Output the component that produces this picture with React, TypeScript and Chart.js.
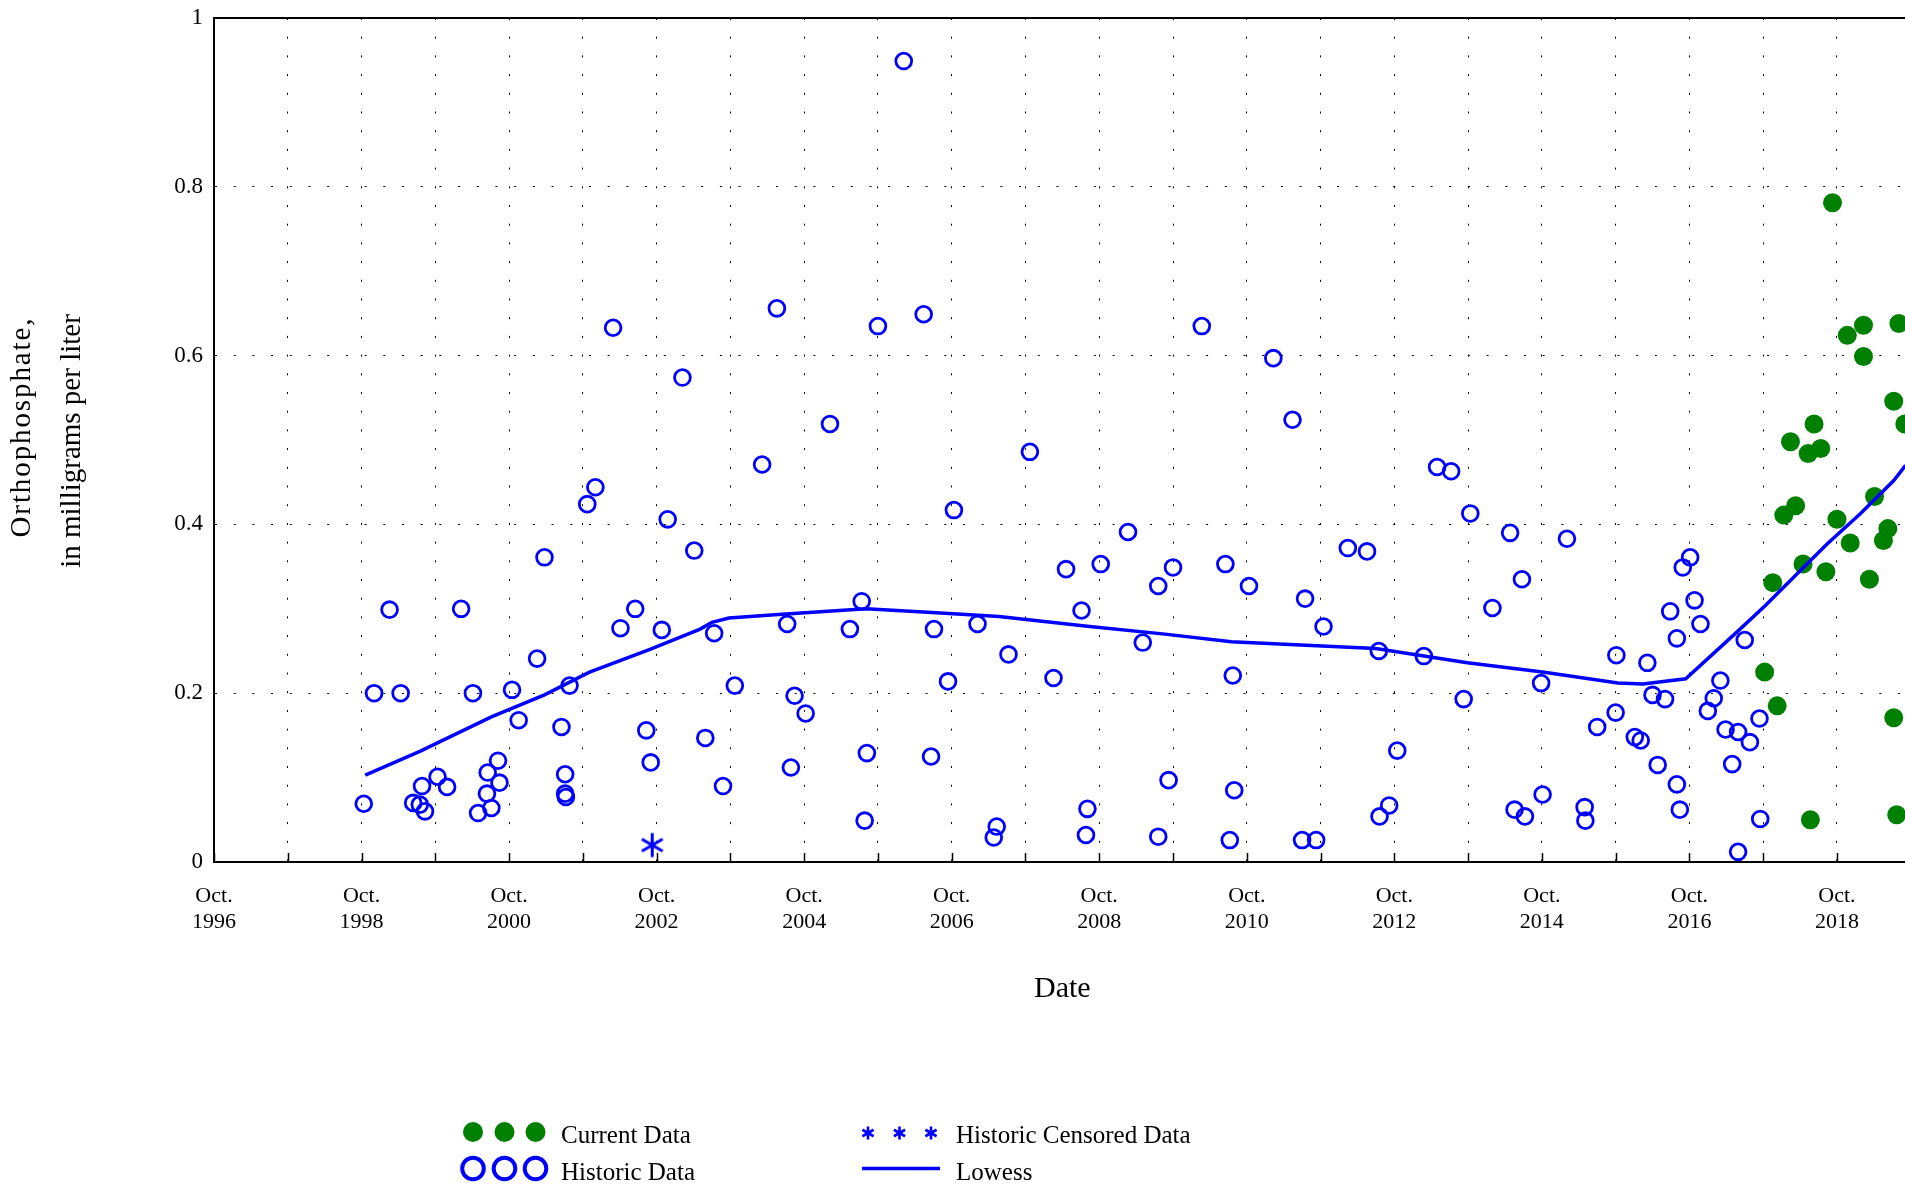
import React, { useEffect, useRef } from 'react';
import { Chart, registerables } from 'chart.js';

Chart.register(...registerables);

// ---------- DATA (decimal years, mg/L) ----------
const historicDates = [
  1998.78, 1998.92, 1999.13, 1999.28, 1999.45, 1999.54, 1999.57, 1999.61, 1999.78, 1999.91,
  2000.10, 2000.26, 2000.33, 2000.45, 2000.46, 2000.51, 2000.60, 2000.62, 2000.79, 2000.88,
  2001.13, 2001.23, 2001.46, 2001.51, 2001.51, 2001.52, 2001.57, 2001.81, 2001.92, 2002.16,
  2002.26, 2002.46, 2002.61, 2002.67, 2002.82, 2002.90, 2003.10, 2003.26, 2003.41, 2003.53,
  2003.65, 2003.81, 2004.18, 2004.38, 2004.52, 2004.57, 2004.62, 2004.77, 2005.10, 2005.37,
  2005.53, 2005.57, 2005.60, 2005.75, 2006.10, 2006.37, 2006.47, 2006.51, 2006.70, 2006.78,
  2007.10, 2007.32, 2007.36, 2007.52, 2007.81, 2008.13, 2008.30, 2008.51, 2008.57, 2008.59,
  2008.77, 2009.14, 2009.34, 2009.55, 2009.55, 2009.69, 2009.75, 2010.14, 2010.46, 2010.52,
  2010.56, 2010.58, 2010.78, 2011.11, 2011.37, 2011.50, 2011.54, 2011.69, 2011.79, 2012.12,
  2012.38, 2012.54, 2012.55, 2012.68, 2012.79, 2013.15, 2013.33, 2013.52, 2013.69, 2013.78,
  2014.08, 2014.32, 2014.38, 2014.48, 2014.52, 2014.74, 2014.76, 2015.09, 2015.33, 2015.34,
  2015.50, 2015.75, 2015.76, 2016.01, 2016.09, 2016.18, 2016.25, 2016.32, 2016.42, 2016.49,
  2016.58, 2016.58, 2016.62, 2016.66, 2016.76, 2016.82, 2016.90, 2017.00, 2017.08, 2017.17,
  2017.24, 2017.33, 2017.41, 2017.41, 2017.50, 2017.57, 2017.70, 2017.71,
];
const historicValues = [
  0.069, 0.200, 0.299, 0.200, 0.070, 0.068, 0.090, 0.060, 0.101, 0.089,
  0.300, 0.200, 0.058, 0.081, 0.106, 0.064, 0.120, 0.094, 0.204, 0.168,
  0.241, 0.361, 0.160, 0.104, 0.081, 0.077, 0.209, 0.424, 0.444, 0.633,
  0.277, 0.300, 0.156, 0.118, 0.275, 0.406, 0.574, 0.369, 0.147, 0.271,
  0.090, 0.209, 0.471, 0.656, 0.282, 0.112, 0.197, 0.176, 0.519, 0.276,
  0.309, 0.049, 0.129, 0.635, 0.949, 0.649, 0.125, 0.276, 0.214, 0.417,
  0.282, 0.029, 0.042, 0.246, 0.486, 0.218, 0.347, 0.298, 0.032, 0.063,
  0.353, 0.391, 0.260, 0.327, 0.030, 0.097, 0.349, 0.635, 0.353, 0.026,
  0.221, 0.085, 0.327, 0.597, 0.524, 0.026, 0.312, 0.026, 0.279, 0.372,
  0.368, 0.250, 0.054, 0.067, 0.132, 0.244, 0.468, 0.463, 0.193, 0.413,
  0.301, 0.390, 0.062, 0.335, 0.054, 0.212, 0.080, 0.383, 0.065, 0.049,
  0.160, 0.177, 0.245, 0.148, 0.144, 0.236, 0.198, 0.115, 0.193, 0.297,
  0.265, 0.092, 0.062, 0.349, 0.361, 0.310, 0.282, 0.179, 0.194, 0.215,
  0.157, 0.116, 0.154, 0.012, 0.263, 0.142, 0.170, 0.051,
];

const currentDates = [
  2017.77, 2017.88, 2017.94, 2018.03, 2018.12, 2018.19, 2018.29, 2018.36, 2018.39, 2018.44,
  2018.53, 2018.60, 2018.69, 2018.75, 2018.89, 2018.93, 2019.11, 2019.11, 2019.19, 2019.26,
  2019.38, 2019.44, 2019.52, 2019.52, 2019.56, 2019.59, 2019.67,
];
const currentValues = [
  0.225, 0.331, 0.185, 0.411, 0.498, 0.422, 0.353, 0.484, 0.050, 0.519,
  0.490, 0.344, 0.781, 0.406, 0.624, 0.378, 0.636, 0.599, 0.335, 0.433,
  0.381, 0.395, 0.546, 0.171, 0.056, 0.638, 0.519,
];

const censoredDates = [2002.69];
const censoredValues = [0.020];

const lowessDates = [
  1998.80, 1999.54, 2000.51, 2001.23, 2001.84, 2002.66, 2003.34, 2003.50, 2003.73, 2004.35,
  2005.59, 2006.60, 2007.39, 2008.62, 2009.64, 2010.54, 2011.48, 2012.50, 2013.74, 2014.76,
  2015.78, 2016.12, 2016.70, 2017.40, 2017.78, 2018.17, 2018.62, 2019.07, 2019.52, 2019.68,
];
const lowessValues = [
  0.103, 0.131, 0.172, 0.198, 0.225, 0.252, 0.276, 0.284, 0.289, 0.293,
  0.300, 0.295, 0.291, 0.279, 0.270, 0.261, 0.257, 0.253, 0.236, 0.225,
  0.212, 0.211, 0.217, 0.273, 0.304, 0.338, 0.377, 0.413, 0.452, 0.470,
];

// axis ticks: October of each year, labels every other year
const tickYears = [
  1996, 1997, 1998, 1999, 2000, 2001, 2002, 2003, 2004, 2005, 2006, 2007,
  2008, 2009, 2010, 2011, 2012, 2013, 2014, 2015, 2016, 2017, 2018, 2019,
];
const labelYears = [1996, 1998, 2000, 2002, 2004, 2006, 2008, 2010, 2012, 2014, 2016, 2018];
const yTicks = [0, 0.2, 0.4, 0.6, 0.8, 1];
const yTitleLines = ['Orthophosphate,', 'in milligrams per liter'];

// ---------- STYLE ----------
const W = 1920;
const H = 1186;
const PLOT_LEFT = 214;
const PLOT_TOP = 18;
const PLOT_BOTTOM = 862;
const X_MIN = 1996.75;
const X_MAX = 2019.75;
const PX_PER_YEAR = 73.77;
const PLOT_RIGHT = PLOT_LEFT + (X_MAX - X_MIN) * PX_PER_YEAR;
const BLUE = 'rgb(0,0,255)';
const GREEN = 'rgb(0,128,0)';
const FONT = "'Liberation Serif', 'Times New Roman', Times, serif";

function pts(xs: number[], ys: number[]) {
  return xs.map((x, i) => ({ x, y: ys[i] }));
}

function drawAsterisk(ctx: CanvasRenderingContext2D, cx: number, cy: number, r: number, lw: number) {
  ctx.save();
  ctx.strokeStyle = BLUE;
  ctx.lineWidth = lw;
  ctx.beginPath();
  for (const a of [90, 30, 150]) {
    const rad = (a * Math.PI) / 180;
    const dx = r * Math.cos(rad);
    const dy = r * Math.sin(rad);
    ctx.moveTo(cx - dx, cy - dy);
    ctx.lineTo(cx + dx, cy + dy);
  }
  ctx.stroke();
  ctx.restore();
}

function makeAsteriskCanvas(r: number, lw: number) {
  const size = Math.ceil(2 * r + lw + 4);
  const c = document.createElement('canvas');
  c.width = size;
  c.height = size;
  const ctx = c.getContext('2d')!;
  drawAsterisk(ctx, size / 2, size / 2, r, lw);
  return c;
}

function zeroPadding(s: any) {
  s.paddingTop = 0;
  s.paddingBottom = 0;
  s.paddingLeft = 0;
  s.paddingRight = 0;
}

const decorPlugin = {
  id: 'decor',
  afterDraw(chart: any) {
    const { ctx, chartArea: a, scales } = chart;
    const xs = scales.x;
    ctx.save();
    // top frame line
    ctx.strokeStyle = '#000';
    ctx.lineWidth = 2;
    ctx.beginPath();
    ctx.moveTo(a.left, a.top);
    ctx.lineTo(a.right, a.top);
    ctx.stroke();
    // inner tick marks on the date axis
    ctx.lineWidth = 1.5;
    ctx.beginPath();
    for (const yr of tickYears) {
      const px = Math.round(xs.getPixelForValue(yr + 0.75)) + 0.5;
      ctx.moveTo(px, a.bottom);
      ctx.lineTo(px, a.bottom - 9);
    }
    ctx.stroke();

    // y-axis title (two rotated lines)
    ctx.save();
    ctx.fillStyle = '#000';
    ctx.font = `29px ${FONT}`;
    ctx.textAlign = 'center';
    ctx.textBaseline = 'middle';
    ctx.translate(22.5, 427);
    ctx.rotate(-Math.PI / 2);
    (ctx as any).letterSpacing = '1.9px';
    ctx.fillText(yTitleLines[0], 0, 0);
    ctx.restore();
    ctx.save();
    ctx.fillStyle = '#000';
    ctx.font = `29px ${FONT}`;
    ctx.textAlign = 'center';
    ctx.textBaseline = 'middle';
    ctx.translate(72, 441);
    ctx.rotate(-Math.PI / 2);
    ctx.fillText(yTitleLines[1], 0, 0);
    ctx.restore();

    // legend
    const mx = [473, 504.5, 535.5];
    ctx.fillStyle = GREEN;
    for (const x of mx) {
      ctx.beginPath();
      ctx.arc(x, 1132, 10, 0, Math.PI * 2);
      ctx.fill();
    }
    ctx.strokeStyle = BLUE;
    ctx.lineWidth = 4;
    for (const x of mx) {
      ctx.beginPath();
      ctx.arc(x, 1168.5, 10.8, 0, Math.PI * 2);
      ctx.stroke();
    }
    for (const x of [868, 899.5, 931]) drawAsterisk(ctx, x, 1133, 6.5, 2.6);
    ctx.strokeStyle = BLUE;
    ctx.lineWidth = 3.5;
    ctx.beginPath();
    ctx.moveTo(862, 1168.5);
    ctx.lineTo(940, 1168.5);
    ctx.stroke();

    ctx.fillStyle = '#000';
    ctx.font = `25px ${FONT}`;
    ctx.textBaseline = 'alphabetic';
    ctx.textAlign = 'left';
    ctx.fillText('Current Data', 561, 1143);
    ctx.fillText('Historic Data', 561, 1180);
    ctx.fillText('Historic Censored Data', 956, 1143);
    ctx.fillText('Lowess', 956, 1180);
    ctx.restore();
  },
};

export default function App() {
  const ref = useRef<HTMLCanvasElement>(null);

  useEffect(() => {
    document.body.style.margin = '0';
    Chart.defaults.font.family = FONT;
    Chart.defaults.color = '#000';
    const star = makeAsteriskCanvas(12, 3);

    const chart = new Chart(ref.current!, {
      type: 'scatter',
      data: {
        datasets: [
          {
            label: 'Lowess',
            data: pts(lowessDates, lowessValues),
            showLine: true,
            borderColor: BLUE,
            borderWidth: 3.5,
            pointRadius: 0,
            tension: 0,
            fill: false,
          },
          {
            label: 'Current Data',
            data: pts(currentDates, currentValues),
            pointStyle: 'circle',
            pointRadius: 9.5,
            backgroundColor: GREEN,
            borderColor: GREEN,
            borderWidth: 0,
          },
          {
            label: 'Historic Censored Data',
            data: pts(censoredDates, censoredValues),
            pointStyle: star as any,
            pointRadius: 12,
          },
          {
            label: 'Historic Data',
            data: pts(historicDates, historicValues),
            pointStyle: 'circle',
            pointRadius: 7.9,
            borderWidth: 2.8,
            borderColor: BLUE,
            backgroundColor: 'rgba(0,0,0,0)',
          },
        ],
      },
      options: {
        responsive: false,
        animation: false,
        events: [],
        layout: {
          autoPadding: false,
          padding: { top: PLOT_TOP, right: W - PLOT_RIGHT, bottom: 0, left: 0 },
        },
        plugins: { legend: { display: false }, tooltip: { enabled: false } },
        scales: {
          x: {
            type: 'linear',
            min: X_MIN,
            max: X_MAX,
            afterBuildTicks: (s: any) => {
              s.ticks = tickYears.map((y) => ({ value: y + 0.75 }));
            },
            afterFit: (s: any) => {
              s.height = H - PLOT_BOTTOM;
              zeroPadding(s);
            },
            ticks: {
              autoSkip: false,
              maxRotation: 0,
              minRotation: 0,
              padding: 21,
              color: '#000',
              font: { size: 22, lineHeight: '26px' },
              callback: (v: any) => {
                const yr = Math.round(Number(v) - 0.75);
                return labelYears.includes(yr) ? ['Oct.', String(yr)] : '';
              },
            },
            grid: { color: '#000', lineWidth: 1, drawTicks: false },
            border: { display: true, color: '#000', width: 2, dash: [2, 16.7] },
            title: {
              display: true,
              text: 'Date',
              color: '#000',
              font: { size: 30, lineHeight: '36px' },
              padding: { top: 0, bottom: 179 },
            },
          },
          y: {
            type: 'linear',
            min: 0,
            max: 1,
            afterBuildTicks: (s: any) => {
              s.ticks = yTicks.map((v) => ({ value: v }));
            },
            afterFit: (s: any) => {
              s.width = PLOT_LEFT;
              zeroPadding(s);
            },
            ticks: {
              padding: 11,
              color: '#000',
              font: { size: 23 },
              callback: (v: any) => String(Number(Number(v).toFixed(1))),
            },
            grid: { color: '#000', lineWidth: 1, drawTicks: false },
            border: { display: true, color: '#000', width: 2, dash: [2, 16.7] },
            title: { display: false },
          },
        },
      },
      plugins: [decorPlugin],
    } as any);

    return () => chart.destroy();
  }, []);

  return (
    <div
      style={{
        position: 'fixed',
        left: 0,
        top: 0,
        width: '100vw',
        height: '100vh',
        overflow: 'hidden',
        background: '#fff',
      }}
    >
      <canvas ref={ref} width={W} height={H} style={{ display: 'block', width: W, height: H }} />
    </div>
  );
}
